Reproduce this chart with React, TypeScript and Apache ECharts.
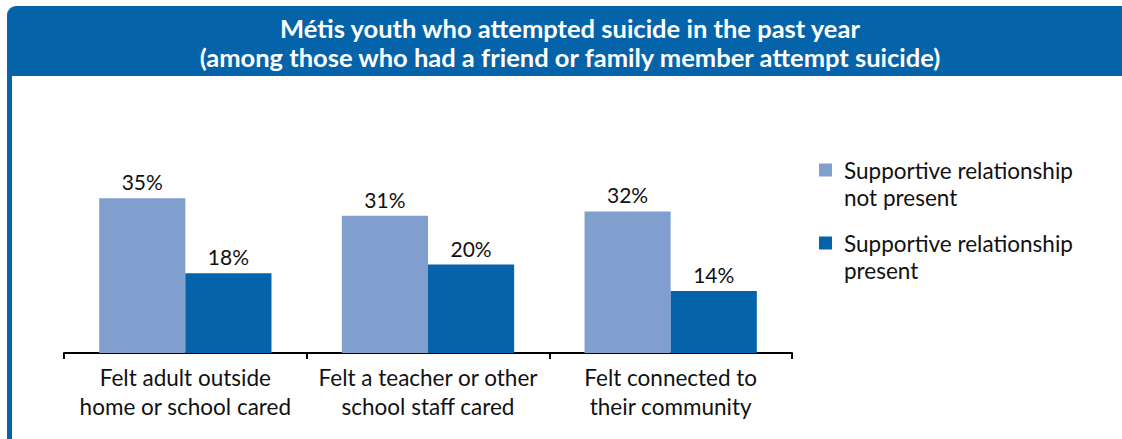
import React, { useEffect, useRef } from "react";
import * as echarts from "echarts";

const titleText = "Métis youth who attempted suicide in the past year\n(among those who had a friend or family member attempt suicide)";
const categories = [
  "Felt adult outside\nhome or school cared",
  "Felt a teacher or other\nschool staff cared",
  "Felt connected to\ntheir community",
];
const seriesNames = ["Supportive relationship not present", "Supportive relationship present"];
const notPresentValues = [35, 31, 32];
const presentValues = [18, 20, 14];

const HEADER_BLUE = "#0563AA";
const LIGHT_BLUE = "#809FCF";
const FONT = "Lato, 'Open Sans', sans-serif";

export default function App() {
  const ref = useRef<HTMLDivElement>(null);
  useEffect(() => {
    document.body.style.margin = "0";
    const chart = echarts.init(ref.current!, null, { renderer: "svg" });
    const legendCommon = {
      orient: "vertical",
      left: 819,
      padding: 0,
      itemWidth: 13,
      itemHeight: 13,
      icon: "rect",
      formatter: (n: string) => " \n" + n.replace("relationship ", "relationship\n"),
      textStyle: {
        fontFamily: FONT,
        fontSize: 22.5,
        color: "#111",
        lineHeight: 27,
        padding: [0, 0, 0, 7],
      },
    };
    const labelStyle = {
      show: true,
      position: "top",
      distance: 6,
      formatter: "{c}%",
      fontFamily: FONT,
      fontSize: 21,
      color: "#111",
    };
    chart.setOption({
      animation: false,
      textStyle: { fontFamily: FONT },
      graphic: [
        {
          type: "rect",
          shape: { x: 7, y: 6, width: 1115, height: 70, r: [9, 0, 0, 0] },
          style: { fill: HEADER_BLUE },
          silent: true,
        },
        {
          type: "rect",
          shape: { x: 7, y: 75, width: 5, height: 364 },
          style: { fill: HEADER_BLUE },
          silent: true,
        },
        {
          type: "text",
          x: 570,
          y: 42.5,
          style: {
            text: titleText,
            fill: "#fff",
            fontFamily: FONT,
            fontWeight: "bold",
            fontSize: 25.5,
            lineHeight: 29,
            textAlign: "center",
            textVerticalAlign: "middle",
          },
          silent: true,
        },
      ],
      legend: [
        { ...legendCommon, top: 129.5, data: [seriesNames[0]] },
        { ...legendCommon, top: 202.5, data: [seriesNames[1]] },
      ],
      grid: { left: 64, right: 330, top: 176, bottom: 86 },
      xAxis: {
        type: "category",
        data: categories,
        axisLine: { show: true, lineStyle: { color: "#000", width: 2 } },
        axisTick: { show: true, length: 6, lineStyle: { color: "#000", width: 2 } },
        axisLabel: {
          interval: 0,
          fontFamily: FONT,
          fontSize: 22.5,
          color: "#111",
          lineHeight: 29,
          margin: 10,
        },
      },
      yAxis: { type: "value", min: 0, max: 40, show: false },
      series: [
        {
          name: seriesNames[0],
          type: "bar",
          data: notPresentValues,
          itemStyle: { color: LIGHT_BLUE },
          barGap: "0%",
          barCategoryGap: "29%",
          label: labelStyle,
        },
        {
          name: seriesNames[1],
          type: "bar",
          data: presentValues,
          itemStyle: { color: HEADER_BLUE },
          barGap: "0%",
          barCategoryGap: "29%",
          label: labelStyle,
        },
      ],
    });
    return () => chart.dispose();
  }, []);
  return <div ref={ref} style={{ width: 1122, height: 439 }} />;
}
